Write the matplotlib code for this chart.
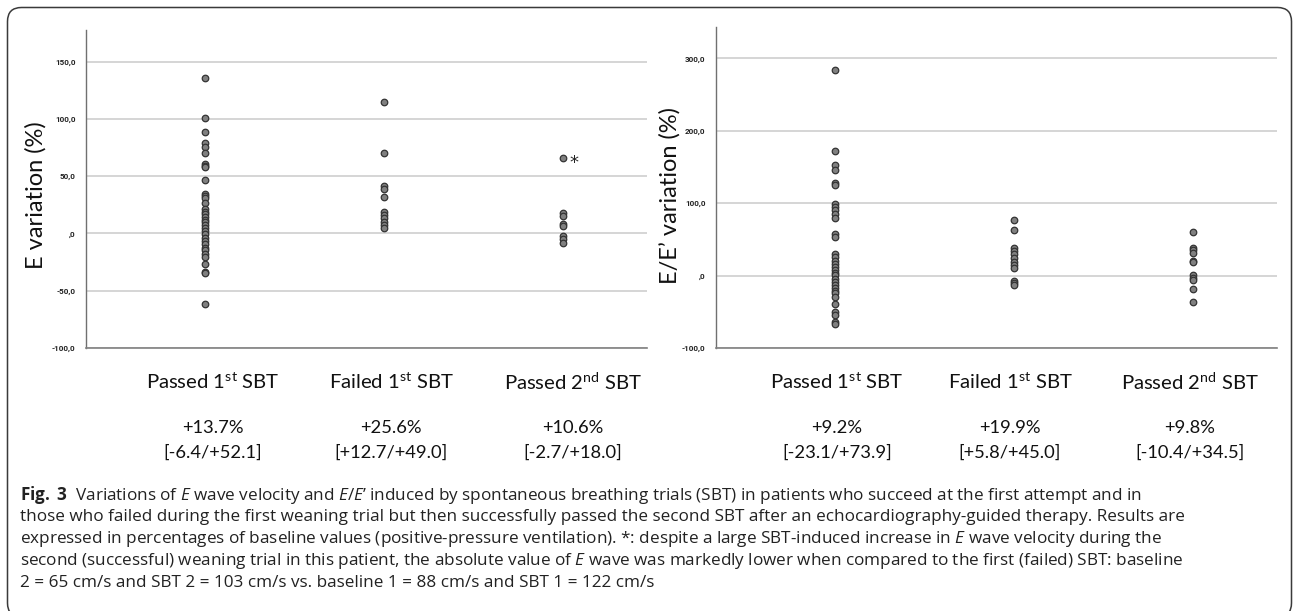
import matplotlib.pyplot as plt
from matplotlib.patches import FancyBboxPatch
from matplotlib.transforms import IdentityTransform
from matplotlib.ticker import FuncFormatter

plt.rcParams['font.family'] = ['Lato', 'DejaVu Sans']
plt.rcParams['mathtext.fontset'] = 'custom'
plt.rcParams['mathtext.rm'] = 'Open Sans'
plt.rcParams['mathtext.it'] = 'Open Sans:italic'
plt.rcParams['mathtext.bf'] = 'Open Sans:bold'

# groups (x positions 0, 1, 2)
groups = ['Passed 1$^{\\mathdefault{st}}$ SBT',
          'Failed 1$^{\\mathdefault{st}}$ SBT',
          'Passed 2$^{\\mathdefault{nd}}$ SBT']

# E wave velocity variation (%)
e_passed1 = [135.7, 100.5, 88.5, 78.6, 75.1, 70.2, 60.3, 58.8, 57.9, 46.3,
             34.6, 32.6, 30.6, 26.2, 21.8, 18.9, 16.9, 14.6, 12.2, 9.6,
             7.3, 5.0, 2.3, -0.6, -3.8, -6.4, -9.3, -13.1, -14.6, -18.1,
             -20.4, -26.8, -33.5, -34.9, -62.0]
e_failed1 = [114.4, 70.2, 41.4, 39.0, 32.0, 18.9, 16.0, 13.1, 10.2, 7.3, 5.0]
e_passed2 = [65.5, 18.3, 15.7, 8.7, 6.4, -2.3, -4.7, -8.7]

# E/E' variation (%)
ee_passed1 = [284.1, 171.5, 153.1, 145.7, 127.8, 124.6, 98.9, 95.2, 90.6,
              85.1, 79.5, 57.5, 53.8, 29.9, 25.3, 20.7, 16.1, 11.5, 7.8, 4.1,
              0.5, -4.1, -8.7, -13.3, -17.0, -20.7, -24.4, -29.0, -39.1,
              -49.7, -54.3, -63.4, -67.1]
ee_failed1 = [77.5, 63.3, 38.5, 33.9, 29.4, 24.8, 19.3, 14.7, 10.1, -7.3,
              -10.6, -13.3]
ee_passed2 = [59.6, 38.5, 35.3, 31.7, 20.2, 18.8, 0.5, -2.8, -6.0, -18.3,
              -36.7]

# medians [IQR]
e_medians = ['+13.7%', '+25.6%', '+10.6%']
e_iqr = ['[-6.4/+52.1]', '[+12.7/+49.0]', '[-2.7/+18.0]']
ee_medians = ['+9.2%', '+19.9%', '+9.8%']
ee_iqr = ['[-23.1/+73.9]', '[+5.8/+45.0]', '[-10.4/+34.5]']

caption = [
    r"$\mathbf{Fig.}$ $\mathbf{3}$  Variations of $\mathit{E}$ wave velocity and $\mathit{E/E}$’ induced by spontaneous breathing trials (SBT) in patients who succeed at the first attempt and in",
    "those who failed during the first weaning trial but then successfully passed the second SBT after an echocardiography-guided therapy. Results are",
    r"expressed in percentages of baseline values (positive-pressure ventilation). *: despite a large SBT-induced increase in $\mathit{E}$ wave velocity during the",
    r"second (successful) weaning trial in this patient, the absolute value of $\mathit{E}$ wave was markedly lower when compared to the first (failed) SBT: baseline",
    "2 = 65 cm/s and SBT 2 = 103 cm/s vs. baseline 1 = 88 cm/s and SBT 1 = 122 cm/s",
]

W, H = 1293, 611
fig = plt.figure(figsize=(W / 100, H / 100), dpi=100)


def fx(px):
    return px / W


def fy(py):
    return 1 - py / H


def spss_fmt(v, pos):
    s = f"{v:.1f}".replace('.', ',')
    if s.startswith('0'):
        s = s[1:]
    if s.startswith('-0'):
        s = '-' + s[2:]
    return s


def style_axis(ax, ylim, yticks, ylabel, label_x, label_y):
    ax.set_xlim(-0.665, 2.47)
    ax.set_ylim(*ylim)
    ax.set_yticks(yticks)
    ax.yaxis.set_major_formatter(FuncFormatter(spss_fmt))
    ax.set_xticks([])
    ax.tick_params(axis='y', length=0, pad=7.5, labelsize=5.8, labelcolor='#222')
    for lab in ax.get_yticklabels():
        lab.set_fontweight('bold')
        lab.set_family('Roboto')
    ax.yaxis.grid(True, color='#d2d2d2', lw=1.3)
    ax.set_axisbelow(True)
    for s in ['top', 'right']:
        ax.spines[s].set_visible(False)
    ax.spines['left'].set_color('#707070')
    ax.spines['bottom'].set_color('#808080')
    ax.spines['left'].set_linewidth(1.0)
    ax.spines['bottom'].set_linewidth(1.2)
    ax.set_ylabel(ylabel, fontsize=17, color='#111')
    ax.yaxis.set_label_coords(label_x, label_y)


def dots(ax, series):
    for i, vals in enumerate(series):
        ax.scatter([i] * len(vals), vals, s=22, facecolor='#808080',
                   edgecolor='#333333', linewidth=0.9, zorder=3)


# left panel: E wave
ax1 = fig.add_axes([fx(86), fy(348), fx(647 - 86), (348 - 30) / H])
dots(ax1, [e_passed1, e_failed1, e_passed2])
style_axis(ax1, (-100, 177.7), [-100, -50, 0, 50, 100, 150],
           'E variation (%)', -0.07, 0.48)
ax1.annotate('*', xy=(2, e_passed2[0]), xytext=(8, -3),
             textcoords='offset points', fontsize=13, ha='center', va='center',
             family='DejaVu Sans', color='#222')

# right panel: E/E'
ax2 = fig.add_axes([fx(716), fy(348), fx(1277 - 716), (348 - 27) / H])
dots(ax2, [ee_passed1, ee_failed1, ee_passed2])
style_axis(ax2, (-100, 343.5), [-100, 0, 100, 200, 300],
           'E/E\u2019 variation (%)', -0.064, 0.475)

# group labels and medians under each panel
left_cx = [213, 391, 573]
right_cx = [837, 1010, 1190]
for cx_list, meds, iqrs in [(left_cx, e_medians, e_iqr),
                            (right_cx, ee_medians, ee_iqr)]:
    for cx, g, m, q in zip(cx_list, groups, meds, iqrs):
        fig.text(fx(cx), fy(382), g, ha='center', va='center', fontsize=14.6,
                 color='#111')
        fig.text(fx(cx), fy(428), m, ha='center', va='center', fontsize=13.2,
                 color='#111')
        fig.text(fx(cx), fy(453), q, ha='center', va='center', fontsize=13.2,
                 color='#111')

# caption
for k, line in enumerate(caption):
    fig.text(fx(20), fy(495 + 22 * k), line, ha='left', va='center',
             fontsize=12.3, color='#222', family='Open Sans')

# rounded frame around the figure
frame = FancyBboxPatch((7.5, -6), 1284, 609.5,
                       boxstyle='round,pad=0,rounding_size=14',
                       transform=IdentityTransform(), fill=False,
                       edgecolor='#3a3a3a', linewidth=1.1)
fig.patches.append(frame)

fig.savefig('out.png', dpi=100)
